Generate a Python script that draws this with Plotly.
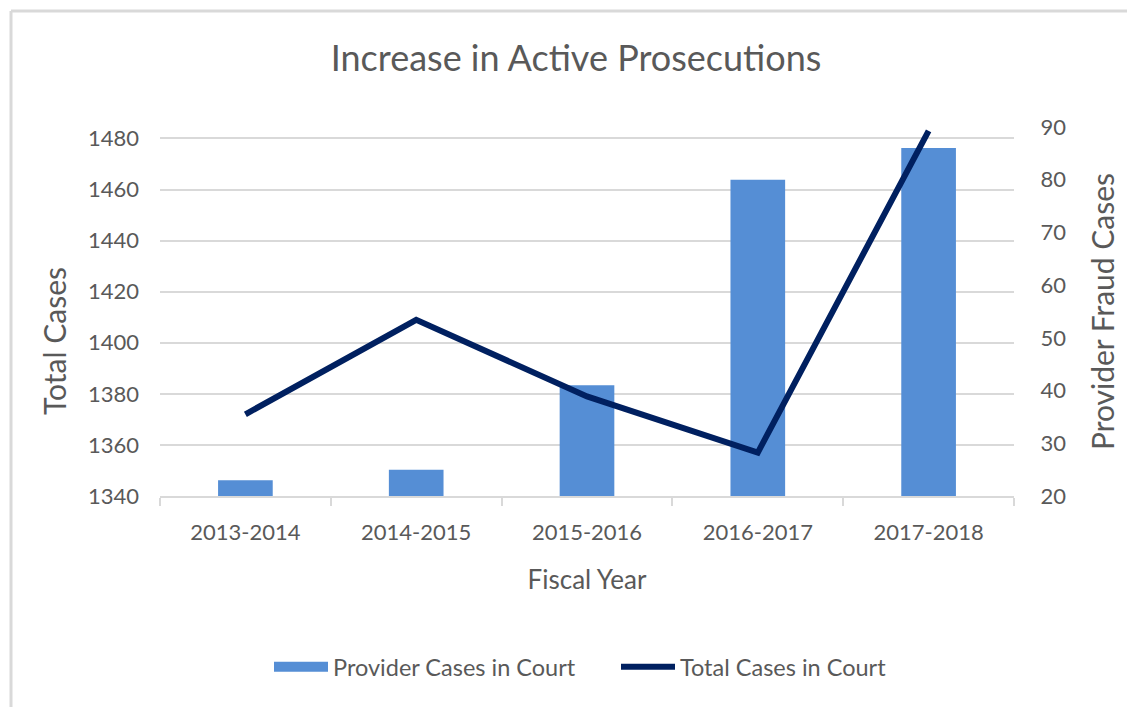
import plotly.graph_objects as go

years = ["2013-2014", "2014-2015", "2015-2016", "2016-2017", "2017-2018"]
provider_cases = [23, 25, 41, 80, 86]
total_cases = [1372, 1409, 1379, 1357, 1483]
left_ticks = [1340, 1360, 1380, 1400, 1420, 1440, 1460, 1480]
right_ticks = [20, 30, 40, 50, 60, 70, 80, 90]

FONT = "Lato"
GRAY = "#595959"
GRID = "#D9D9D9"
BAR = "#558ED5"
LINE = "#002060"

W, H = 1119, 699
L, R, T, B = 152, 113, 119, 211
PW, PH = W - L - R, H - T - B

fig = go.Figure()
fig.add_trace(go.Bar(
    x=years, y=provider_cases, name="Provider Cases in Court",
    marker=dict(color=BAR, line=dict(width=0)),
    yaxis="y", showlegend=False, legendgroup="prov",
))
# legend proxy giving a wide rectangular swatch for the bar series
fig.add_trace(go.Scatter(
    x=[None], y=[None], name="Provider Cases in Court", mode="lines",
    line=dict(color=BAR, width=14), yaxis="y", legendgroup="prov", hoverinfo="skip",
))
fig.add_trace(go.Scatter(
    x=years, y=total_cases, name="Total Cases in Court",
    mode="lines", line=dict(color=LINE, width=6),
    yaxis="y2",
))

fig.update_layout(
    width=W, height=H,
    margin=dict(l=L, r=R, t=T, b=B),
    paper_bgcolor="white", plot_bgcolor="white",
    font=dict(family=FONT, color=GRAY, size=22),
    title=dict(text="Increase in Active Prosecutions", xref="paper", x=(568 - L) / PW,
               xanchor="center", y=1 - 50 / H, yanchor="middle",
               font=dict(family=FONT, size=36, color=GRAY)),
    bargap=0.68,
    showlegend=True,
    legend=dict(orientation="h", x=456 / PW, xanchor="center",
                y=-(659 - (T + PH)) / PH, yanchor="middle",
                font=dict(size=23.5, color=GRAY), traceorder="normal",
                itemwidth=54, entrywidth=278),
    xaxis=dict(
        type="category", showgrid=False, showline=True, linecolor=GRID, linewidth=2,
        ticks="outside", tickson="boundaries", ticklen=8, tickcolor=GRID, tickwidth=2,
        tickfont=dict(size=22, color=GRAY), ticklabelstandoff=16,
        title=dict(text="Fiscal Year", font=dict(size=26, color=GRAY), standoff=26),
    ),
    yaxis=dict(
        side="right", range=[20, 90], tickvals=right_ticks,
        showgrid=False, zeroline=False, showline=False,
        ticks="outside", ticklen=21, tickcolor="rgba(0,0,0,0)",
        tickfont=dict(size=22, color=GRAY),
        title=dict(text="Provider Fraud Cases", font=dict(size=30, color=GRAY), standoff=27),
    ),
    yaxis2=dict(
        overlaying="y", side="left", range=[1340, 1484.5], tickvals=left_ticks,
        showgrid=True, gridcolor=GRID, gridwidth=2, zeroline=False, showline=False, ticks="",
        tickfont=dict(size=22, color=GRAY), ticklabelstandoff=20,
    ),
)

# left axis title (placed slightly below the plot centre, as in the original)
fig.add_annotation(text="Total Cases", textangle=-90, xref="paper", yref="paper",
                   x=-(L - 46) / PW, y=1 - (341 - 8 - T) / PH, xanchor="center", yanchor="middle",
                   showarrow=False, font=dict(size=30, color=GRAY, family=FONT))

# light border of the chart area (top and left edges)
bx = -(L - 3) / PW
by = 1 + (T - 3) / PH
fig.add_shape(type="line", xref="paper", yref="paper", x0=bx, x1=1 + (R + 10) / PW, y0=by, y1=by,
              line=dict(color=GRID, width=3))
fig.add_shape(type="line", xref="paper", yref="paper", x0=bx, x1=bx, y0=-(B + 10) / PH, y1=by,
              line=dict(color=GRID, width=3))

fig.write_html("out.html")
